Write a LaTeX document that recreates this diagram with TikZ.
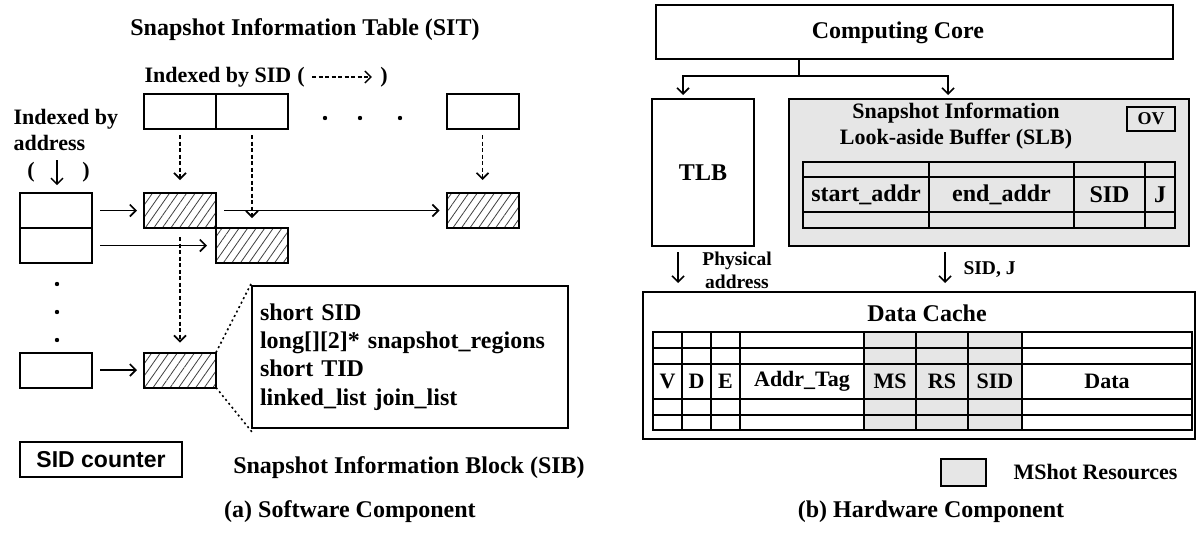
\documentclass[tikz,border=0pt]{standalone}
\usepackage{fontspec}
\setmainfont{Liberation Serif}
\newfontfamily\arialfont{Liberation Sans}
\usetikzlibrary{arrows.meta,positioning,calc,patterns.meta}
\definecolor{mshot}{HTML}{E6E6E6}
\definecolor{hatch}{HTML}{404040}

\begin{document}
\begin{tikzpicture}[x=1pt,y=-1pt,
  txtL/.style={font=\bfseries\fontsize{24}{28.3}\selectfont},
  txtM/.style={font=\bfseries\fontsize{22}{26}\selectfont},
  txtS/.style={font=\bfseries\fontsize{19.5}{23}\selectfont},
  box/.style={draw,line width=2pt,inner sep=0pt,outer sep=0pt},
  cell/.style={box,minimum width=72pt,minimum height=35pt},
  sib/.style={cell,pattern={Lines[angle=55,distance=7pt,line width=0.8pt]},pattern color=hatch},
  grid/.style={line width=2pt},
  arr/.style={-{Straight Barb[length=6pt,width=12pt]},line width=1.6pt},
  darr/.style={arr,dash pattern=on 4pt off 2.5pt},
  dots/.style={line width=1.6pt,dash pattern=on 2pt off 3pt}
]
\path[use as bounding box,fill=white] (0,0) rectangle (1196,533);

\node[txtL] (sit) at (305,30) {Snapshot Information Table (SIT)};
\node[txtM,anchor=west] (bysid) at (141,77) {Indexed by SID};
\node[txtM] (lp1) at (301,77) {(};
\node[txtM] (rp1) at (384,77) {)};
\node[txtM,anchor=west,align=left] (byaddr) at (10,130) {Indexed by\\address};
\node[txtM] (lp2) at (31,172) {(};
\node[txtM] (rp2) at (86,172) {)};
\coordinate (dntop) at (57,160);
\coordinate (dnbot) at (57,185);

\node[cell] (l1) at (56,210.5) {};
\node[cell,below=0pt of l1] (l2) {};
\node[cell] (l3) at (56,370) {};
\foreach \y in {284,312,340} \fill (57,\y) circle (2.2pt);
\node[cell] (t1) at (180,111.5) {};
\node[cell,right=0pt of t1] (t2) {};
\node[cell] (tn) at (482.5,111.5) {};
\foreach \x in {325,360,400} \fill (\x,118) circle (2.2pt);
\node[sib] (ha) at (180,210.5) {};
\node[sib,anchor=north west] (hb) at (ha.south east) {};
\node[sib] (hc) at (482.5,210.5) {};
\node[sib] (hd) at (180,370) {};
\node[box,txtL,minimum width=316pt,minimum height=142pt,text width=300pt,inner xsep=8pt,align=left] (blk) at (410,357)
  {short SID\\long[][2]* snapshot\_regions\\short TID\\linked\_list join\_list};
\coordinate (blktop) at ($(blk.north west)+(0,-4)$);
\coordinate (blkbot) at ($(blk.south west)+(0,4)$);
\node[box,minimum width=162pt,minimum height=35pt,font=\arialfont\bfseries\fontsize{23}{27}\selectfont] (cnt) at (101,459.5) {SID counter};
\node[txtL] (sibl) at (409,468) {Snapshot Information Block (SIB)};
\node[txtL] (capa) at (350,512) {(a) Software Component};

\draw[darr,line width=1.3pt,shorten <=4pt,shorten >=5pt] (lp1) -- (rp1);
\draw[arr,line width=1.3pt] (dntop) -- (dnbot);
\draw[arr,shorten <=8pt,shorten >=7pt] (l1) -- (ha);
\draw[arr,shorten <=8pt,shorten >=7pt] (ha) -- (hc);
\draw[arr,shorten <=8pt,shorten >=9pt] (l2) -- (hb);
\draw[arr,shorten <=8pt,shorten >=7pt] (l3) -- (hd);
\draw[darr,shorten <=6pt,shorten >=13pt] (t1) -- (ha);
\draw[darr,shorten <=6pt,shorten >=10pt] (t2) -- (hb);
\draw[darr,shorten <=6pt,shorten >=13pt] (tn) -- (hc);
\draw[darr,shorten <=9pt,shorten >=10pt] (ha) -- (hd);
\draw[dots] (hd.north east) -- (blktop);
\draw[dots] (hd.south east) -- (blkbot);

\node[box,minimum width=517pt,minimum height=54pt] (core) at (914.5,32) {};
\node[txtL] (coret) at (898,33) {Computing Core};
\node[box,txtL,minimum width=102pt,minimum height=147pt] (tlb) at (703,172.5) {TLB};
\node[box,fill=mshot,minimum width=400pt,minimum height=147pt] (slb) at (989,172.5) {};
\node[txtM,align=center] (slbt) at (956,126.5) {Snapshot Information\\Look-aside Buffer (SLB)};
\node[box,line width=1.6pt,minimum width=48pt,minimum height=24pt,font=\bfseries\fontsize{18}{20}\selectfont] (ov) at (1151,119) {OV};
\draw[grid] (803,162) rectangle (1175,228);
\foreach \y in {177,212} \draw[grid] (803,\y) -- (1175,\y);
\foreach \x in {929,1074,1145} \draw[grid] (\x,162) -- (\x,228);
\foreach \x/\t/\n in {866/start\_addr/sa,1001.5/end\_addr/ea,1109.5/SID/sd,1160/J/jf}
  \node[txtL] (\n) at (\x,195) {\t};

\coordinate (fork) at (799,76);
\coordinate (tlbin) at (683,99);
\coordinate (slbin) at (948,99);
\draw[line width=1.6pt] (core.south -| fork) -- (fork);
\draw[arr,shorten >=4pt] (fork) -| (tlbin);
\draw[arr,shorten >=4pt] (fork) -| (slbin);

\node[box,minimum width=552pt,minimum height=147pt] (cache) at (919,365.5) {};
\node[txtL] (dct) at (927,313) {Data Cache};
\fill[mshot] (864,332) rectangle (1022,430);
\foreach \y in {348,364,399,415} \draw[grid] (653,\y) -- (1192,\y);
\foreach \x in {682,711,740,864,916,968,1022} \draw[grid] (\x,332) -- (\x,430);
\draw[grid] (653,332) rectangle (1192,430);
\foreach \x/\t/\n in {667.5/V/cv,696.5/D/cd,725.5/E/ce,802/Addr\_Tag/ct,890/MS/cm,942/RS/cr,995/SID/cs,1107/Data/cdat}
  \node[txtM] (\n) at (\x,381.5) {\t};

\coordinate (pa) at (678,270);
\coordinate (sj) at (945,270);
\draw[arr,shorten <=6pt,shorten >=9pt] (pa |- tlb.south) -- (pa |- cache.north);
\draw[arr,shorten <=6pt,shorten >=9pt] (sj |- slb.south) -- (sj |- cache.north);
\node[txtS,align=center] (phys) at (737,270) {Physical\\address};
\node[txtS,anchor=west] (sidj) at (960,270) {SID, J};

\node[draw,line width=1.2pt,fill=mshot,minimum width=45pt,minimum height=27pt,inner sep=0pt] (key) at (963.5,472.5) {};
\node[txtM,anchor=west] (keyl) at (1010,472) {MShot Resources};
\node[txtL] (capb) at (931,512) {(b) Hardware Component};
\end{tikzpicture}
\end{document}
